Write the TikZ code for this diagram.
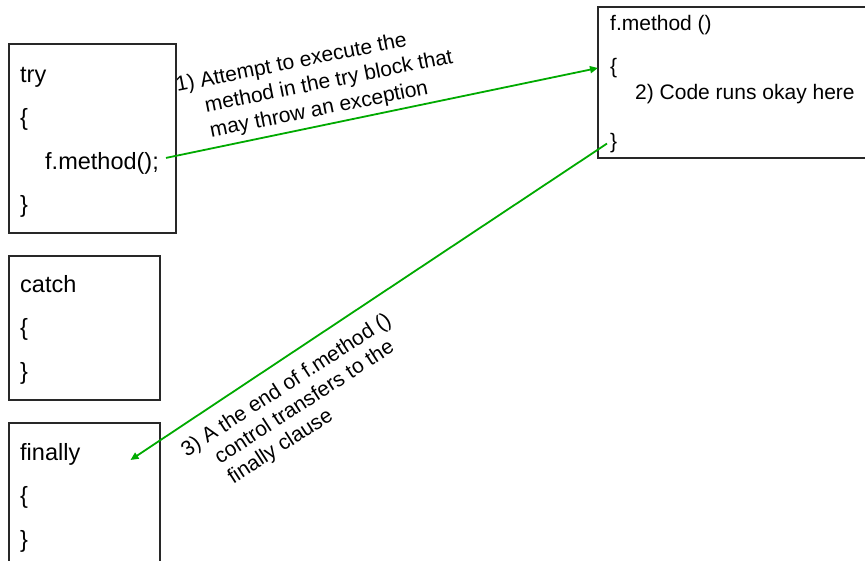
\documentclass[tikz,border=0pt]{standalone}
\usepackage{fontspec}
\setmainfont{Liberation Sans}
\usetikzlibrary{arrows.meta}
\definecolor{arrgreen}{RGB}{0,170,0}
\definecolor{boxline}{RGB}{40,40,40}
\begin{document}
\begin{tikzpicture}[x=1pt,y=-1pt,
  box/.style={draw=boxline,line width=1.2pt,anchor=north west,inner sep=0pt,outer sep=0pt},
  big/.style={font=\fontsize{23.5}{28}\selectfont,anchor=base west,inner sep=0pt},
  small/.style={font=\fontsize{21}{25}\selectfont,anchor=base west,inner sep=0pt},
  lblone/.style={font=\fontsize{21}{25}\selectfont,anchor=base west,inner sep=0pt,rotate=11.3},
  lblthree/.style={font=\fontsize{21}{25}\selectfont,anchor=base west,inner sep=0pt,rotate=33},
  conn/.style={draw=arrgreen,line width=1.8pt,-{Triangle[length=8pt,width=7pt]}}]
\useasboundingbox (0,0) rectangle (865,561);
\clip (0,0) rectangle (865,561);
\fill[white] (0,0) rectangle (865,561);
% boxes
\node[box,minimum width=167pt,minimum height=189pt] (trybox) at (9,44) {};
\node[box,minimum width=151pt,minimum height=144pt] (catchbox) at (9,256) {};
\node[box,minimum width=151pt,minimum height=150pt] (finbox) at (9,423) {};
\node[box,minimum width=280pt,minimum height=151pt] (fbox) at (598,7) {};
% try box text
\node[big] (try) at (20,83) {try};
\node[big] (tob) at (20,126) {\{};
\node[big] (call) at (45,170) {f.method();};
\node[big] (tcb) at (20,213) {\}};
% catch box text
\node[big] (catch) at (20,293) {catch};
\node[big] (cob) at (20,336) {\{};
\node[big] (ccb) at (20,380) {\}};
% finally box text
\node[big] (fin) at (20,460) {finally};
\node[big] (fob) at (20,503) {\{};
\node[big] (fcb) at (20,547) {\}};
% method box text
\node[small] (mname) at (610,31) {f.method ()};
\node[small] (rob) at (610,74) {\{};
\node[small] (ok) at (635,100) {2) Code runs okay here};
\node[small] (rcb) at (610,149) {\}};
% label 1 (hanging indent)
\node[lblone] (l1a) at (177.3,92) {1) Attempt to execute the};
\node[lblone] (l1b) at (206.3,112.3) {method in the try block that};
\node[lblone] (l1c) at (211.3,137.4) {may throw an exception};
% label 3 (hanging indent)
\node[lblthree] (l3a) at (186.7,457.3) {3) A the end of f.method ()};
\node[lblthree] (l3b) at (220,464.4) {control transfers to the};
\node[lblthree] (l3c) at (233.1,484.5) {finally clause};
% connectors
\draw[conn] ([xshift=7pt,yshift=6pt]call.east) -- ([yshift=-61pt]fbox.north west);
\draw[conn] ([xshift=-3pt]rcb.west) -- ([xshift=50pt]fin.base east);
\end{tikzpicture}
\end{document}
